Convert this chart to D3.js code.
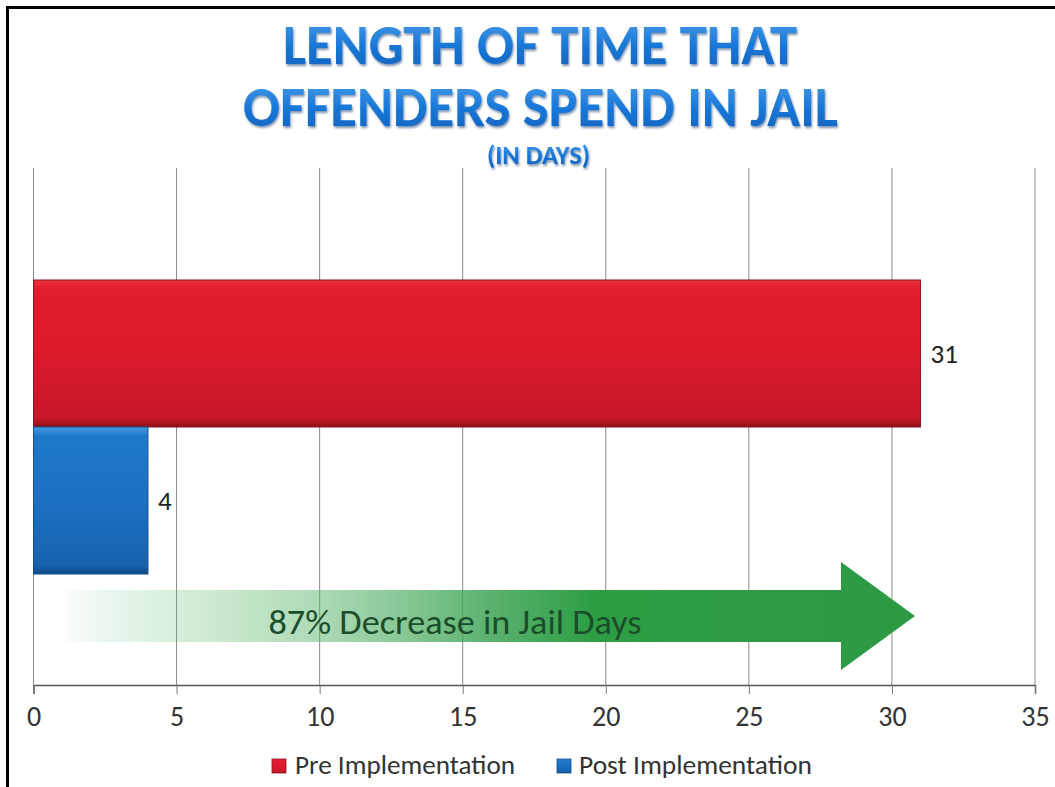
<!DOCTYPE html>
<html><head><meta charset="utf-8">
<script src="https://cdn.jsdelivr.net/npm/d3@7"></script>
<style>body{margin:0;background:#fff}svg{display:block}</style>
</head><body>
<svg id="c" width="1055" height="787"></svg>
<script>
const categories = ["Jail Days"];
const seriesNames = ["Pre Implementation", "Post Implementation"];
const seriesValues = [31, 4];
const tickValues = [0, 5, 10, 15, 20, 25, 30, 35];
const titleLines = ["LENGTH OF TIME THAT", "OFFENDERS SPEND IN JAIL"];
const subtitle = "(IN DAYS)";
const annotation = "87% Decrease in Jail Days";

const svg = d3.select("#c");
const W = 1055, H = 787;
const font = "Carlito, Lato, 'Open Sans', sans-serif";

const defs = svg.append("defs");
function lg(id, x1, y1, x2, y2, stops) {
  const g = defs.append("linearGradient").attr("id", id)
    .attr("x1", x1).attr("y1", y1).attr("x2", x2).attr("y2", y2);
  stops.forEach(s => g.append("stop").attr("offset", s[0]).attr("stop-color", s[1]).attr("stop-opacity", s[2] == null ? 1 : s[2]));
}
lg("gRed", 0, 0, 0, 1, [[0, "#ec3340"], [0.06, "#e11c2f"], [0.5, "#dc1a2c"], [0.94, "#c8172a"], [1, "#8e0f1a"]]);
lg("gBlue", 0, 0, 0, 1, [[0, "#4a9be0"], [0.06, "#1f78cc"], [0.5, "#1c70c4"], [0.94, "#1862ae"], [1, "#0f4a86"]]);
lg("gTitle", 0, 0, 0, 1, [[0, "#4ea4ee"], [0.5, "#1a78d8"], [1, "#0c5db8"]]);
lg("gArrow", 0, 0, 1, 0, [[0, "#2e9e45", 0], [0.05, "#5fbf73", 0.12], [0.3, "#5db56e", 0.5], [0.5, "#3fa557", 0.85], [0.62, "#2e9e45", 1], [1, "#2c9a42", 1]]);
const f = defs.append("filter").attr("id", "shadow").attr("x", "-5%").attr("y", "-10%").attr("width", "110%").attr("height", "130%");
f.append("feDropShadow").attr("dx", 1).attr("dy", 2).attr("stdDeviation", 1.2).attr("flood-color", "#0a3a70").attr("flood-opacity", 0.55);

// frame
svg.append("line").attr("x1", 7).attr("x2", W).attr("y1", 7.5).attr("y2", 7.5).attr("stroke", "#000").attr("stroke-width", 3);
svg.append("line").attr("x1", 7.5).attr("x2", 7.5).attr("y1", 6).attr("y2", H).attr("stroke", "#000").attr("stroke-width", 3);

// title
function fitText(sel, w) {
  sel.attr("textLength", w).attr("lengthAdjust", "spacingAndGlyphs");
}
const tt = svg.append("g").attr("fill", "url(#gTitle)").attr("filter", "url(#shadow)")
  .attr("font-family", font).attr("font-weight", 700).attr("text-anchor", "middle");
fitText(tt.append("text").attr("x", 540).attr("y", 64).attr("font-size", 56).text(titleLines[0]), 514);
fitText(tt.append("text").attr("x", 540.5).attr("y", 126).attr("font-size", 56).text(titleLines[1]), 595);
fitText(tt.append("text").attr("x", 538.5).attr("y", 164).attr("font-size", 27).text(subtitle), 103);

// scales
const x = d3.scaleLinear().domain([0, 35]).range([33.5, 1035]);
const y0 = d3.scaleBand().domain(categories).range([169, 685]).paddingInner(0).paddingOuter(0.3776);
const y1 = d3.scaleBand().domain(seriesNames).range([0, y0.bandwidth()]).padding(0);
const plotTop = 168, plotBottom = 685;

// gridlines
svg.append("g").selectAll("line").data(tickValues).join("line")
  .attr("x1", d => x(d)).attr("x2", d => x(d))
  .attr("y1", plotTop).attr("y2", plotBottom)
  .attr("stroke", "#8a8a8a").attr("stroke-width", 1);

// bars
const fills = ["url(#gRed)", "url(#gBlue)"];
const strokes = ["#8a1420", "#124f8e"];
const gb = svg.append("g");
categories.forEach(cat => {
  seriesNames.forEach((s, i) => {
    const v = seriesValues[i];
    const by = y0(cat) + y1(s), bh = y1.bandwidth(), bx = x(0), bw = x(v) - x(0);
    gb.append("rect").attr("x", bx).attr("y", by).attr("width", bw).attr("height", bh)
      .attr("fill", fills[i]).attr("stroke", strokes[i]).attr("stroke-width", 1);
    gb.append("text").attr("x", x(v) + 10).attr("y", by + bh / 2)
      .attr("dy", "0.36em").attr("font-family", font).attr("font-size", 27)
      .attr("fill", "#222").text(v);
  });
});

// arrow annotation
const shaftTop = 590, shaftBot = 642, headTop = 562, headBot = 670, ax0 = 60, headX = 841, tipX = 915;
const mid = (shaftTop + shaftBot) / 2;
svg.append("path")
  .attr("d", `M${ax0},${shaftTop} L${headX},${shaftTop} L${headX},${headTop} L${tipX},${mid} L${headX},${headBot} L${headX},${shaftBot} L${ax0},${shaftBot} Z`)
  .attr("fill", "url(#gArrow)");
svg.append("text").attr("x", 455).attr("y", 634).attr("text-anchor", "middle")
  .attr("font-family", font).attr("font-size", 34).attr("fill", "#1b4d2b")
  .attr("textLength", 373).attr("lengthAdjust", "spacingAndGlyphs").text(annotation);

// axis
const axis = d3.axisBottom(x).tickValues(tickValues).tickSize(9).tickPadding(12).tickFormat(d3.format("d"));
const ga = svg.append("g").attr("transform", `translate(0,${plotBottom})`).call(axis);
ga.select(".domain").attr("stroke", "#555").attr("stroke-width", 1.5);
ga.selectAll(".tick line").attr("stroke", "#777");
ga.selectAll(".tick text").attr("font-family", font).attr("font-size", 28).attr("fill", "#333");

// legend
const legend = [
  { name: seriesNames[0], mx: 272, tx: 295, tw: 220, fill: "url(#gRed)", st: strokes[0] },
  { name: seriesNames[1], mx: 557, tx: 579, tw: 233, fill: "url(#gBlue)", st: strokes[1] }
];
const gl = svg.append("g");
legend.forEach(l => {
  gl.append("rect").attr("x", l.mx).attr("y", 759).attr("width", 14).attr("height", 14)
    .attr("fill", l.fill).attr("stroke", l.st).attr("stroke-width", 0.8);
  gl.append("text").attr("x", l.tx).attr("y", 774).attr("font-family", font).attr("font-size", 27)
    .attr("fill", "#333").attr("textLength", l.tw).attr("lengthAdjust", "spacingAndGlyphs").text(l.name);
});
</script>
</body></html>
